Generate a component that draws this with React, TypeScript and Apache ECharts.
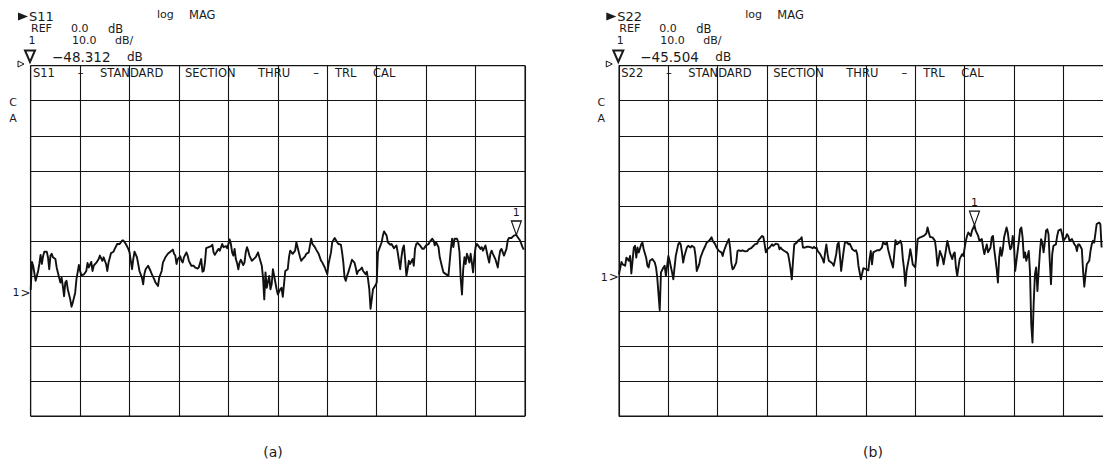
import React, { useEffect, useRef } from "react";
import * as echarts from "echarts";

// ---------- data ----------
// x: measurement point number (0..400), y: |S| in dB
const s11Pt = [
  0, 1, 2, 4, 6, 7, 8, 9, 10, 11,
  13, 14, 15, 16, 17, 18, 20, 21, 23, 24,
  25, 26, 27, 28, 29, 30, 32, 33, 34, 36,
  37, 39, 40, 41, 43, 45, 46, 47, 49, 50,
  51, 53, 55, 56, 58, 59, 61, 62, 63, 65,
  67, 68, 70, 72, 74, 75, 77, 79, 80, 82,
  83, 84, 86, 87, 88, 90, 91, 92, 93, 95,
  97, 98, 100, 101, 103, 104, 106, 107, 109, 111,
  113, 115, 116, 117, 118, 119, 121, 122, 123, 124,
  126, 127, 128, 130, 132, 133, 135, 136, 138, 139,
  140, 141, 142, 144, 146, 147, 148, 149, 151, 152,
  153, 155, 156, 158, 159, 161, 162, 163, 164, 165,
  166, 167, 168, 169, 170, 172, 173, 174, 175, 176,
  177, 179, 181, 182, 184, 185, 187, 188, 189, 190,
  191, 193, 194, 195, 196, 198, 199, 200, 202, 203,
  204, 206, 208, 209, 210, 212, 214, 215, 217, 218,
  219, 220, 222, 223, 225, 226, 227, 228, 230, 231,
  233, 235, 236, 238, 240, 241, 243, 244, 246, 248,
  249, 251, 252, 253, 254, 255, 256, 257, 259, 260,
  262, 263, 264, 265, 267, 268, 269, 271, 272, 273,
  274, 275, 276, 277, 279, 280, 281, 282, 284, 285,
  286, 288, 289, 291, 292, 294, 296, 297, 299, 300,
  301, 302, 303, 304, 305, 306, 307, 309, 310, 311,
  312, 313, 315, 317, 318, 320, 322, 323, 325, 326,
  327, 328, 330, 331, 333, 334, 336, 338, 339, 340,
  341, 342, 343, 345, 346, 347, 348, 349, 350, 351,
  352, 353, 354, 355, 356, 357, 358, 359, 360, 361,
  362, 364, 365, 366, 368, 370, 371, 372, 373, 374,
  376, 378, 379, 380, 381, 383, 385, 386, 387, 389,
  391, 393, 394, 396, 398, 399,
];
const s11Db = [
  -64.0, -56.0, -57.1, -61.4, -58.6, -56.6, -54.0, -56.6, -54.4, -53.1,
  -53.1, -54.7, -58.1, -54.2, -53.7, -54.7, -55.2, -57.6, -60.5, -61.9,
  -60.5, -62.9, -65.8, -61.9, -61.4, -63.8, -66.7, -68.8, -67.7, -64.8,
  -61.0, -56.9, -58.6, -59.8, -59.6, -58.6, -56.3, -57.6, -56.0, -58.6,
  -57.1, -56.3, -55.2, -54.2, -55.7, -54.7, -56.6, -58.6, -56.2, -53.5,
  -53.1, -52.3, -50.9, -50.9, -49.9, -49.9, -50.9, -52.3, -53.3, -58.1,
  -55.2, -53.1, -54.7, -56.6, -58.6, -60.5, -62.4, -59.5, -58.1, -57.1,
  -58.6, -59.5, -61.0, -61.9, -62.9, -60.5, -58.6, -56.2, -54.7, -53.7,
  -53.1, -52.5, -53.7, -54.2, -56.6, -55.2, -54.4, -55.7, -56.2, -54.7,
  -53.3, -54.2, -55.7, -57.1, -57.1, -57.6, -57.9, -57.6, -55.2, -58.8,
  -58.6, -56.2, -52.1, -51.8, -51.5, -51.1, -53.3, -54.0, -52.8, -52.3,
  -52.8, -50.9, -51.8, -51.5, -52.1, -49.6, -50.9, -53.3, -54.2, -52.3,
  -55.2, -56.3, -58.1, -56.2, -55.4, -56.9, -56.2, -53.3, -51.8, -52.8,
  -54.2, -55.7, -55.0, -54.7, -53.3, -54.7, -57.1, -60.5, -66.7, -59.0,
  -63.4, -60.0, -63.8, -62.4, -58.1, -61.9, -63.8, -65.3, -63.8, -63.4,
  -66.0, -58.6, -58.1, -54.7, -52.8, -53.7, -52.8, -50.4, -53.3, -54.7,
  -55.7, -55.2, -54.4, -53.7, -53.3, -51.3, -49.4, -50.9, -51.8, -52.5,
  -53.7, -55.7, -56.2, -57.6, -59.5, -56.6, -53.3, -50.4, -49.2, -50.4,
  -50.9, -51.1, -53.3, -56.2, -60.5, -61.4, -60.0, -59.0, -56.6, -55.4,
  -56.2, -57.6, -59.5, -58.6, -58.1, -57.6, -58.6, -59.5, -58.8, -61.0,
  -63.8, -69.4, -66.7, -63.8, -62.7, -61.9, -53.3, -52.3, -50.4, -48.5,
  -47.3, -48.5, -50.4, -51.1, -50.9, -52.1, -51.3, -53.3, -58.1, -54.7,
  -52.3, -51.3, -55.2, -60.0, -58.1, -55.7, -56.6, -55.2, -57.1, -52.3,
  -50.9, -50.6, -51.3, -52.3, -52.3, -51.3, -50.9, -50.2, -49.4, -49.9,
  -51.3, -50.4, -51.8, -54.7, -57.6, -59.0, -59.5, -60.0, -56.2, -52.3,
  -49.4, -51.8, -49.4, -49.4, -50.4, -53.3, -61.0, -65.3, -58.1, -54.7,
  -56.6, -53.7, -54.7, -56.2, -53.7, -56.2, -59.0, -54.7, -51.8, -50.9,
  -51.3, -52.3, -51.8, -52.8, -51.3, -54.7, -56.2, -53.7, -52.8, -53.7,
  -55.2, -57.6, -54.7, -52.8, -52.3, -54.2, -52.3, -49.9, -49.2, -49.2,
  -48.5, -48.3, -48.9, -49.9, -51.8, -52.5,
];

const s22Pt = [
  0, 2, 3, 5, 6, 8, 9, 10, 12, 13,
  14, 15, 16, 18, 19, 20, 22, 23, 24, 25,
  27, 29, 30, 31, 32, 33, 34, 36, 37, 38,
  40, 41, 43, 44, 45, 46, 48, 49, 50, 51,
  52, 53, 55, 56, 58, 59, 61, 62, 63, 65,
  66, 68, 70, 71, 73, 75, 76, 78, 79, 81,
  83, 84, 85, 87, 89, 90, 91, 92, 93, 95,
  96, 97, 99, 100, 102, 104, 105, 107, 109, 110,
  112, 113, 116, 117, 118, 119, 120, 122, 124, 125,
  127, 129, 130, 131, 132, 134, 136, 137, 138, 139,
  140, 141, 142, 144, 145, 147, 148, 149, 151, 152,
  154, 156, 157, 158, 159, 160, 161, 163, 165, 166,
  167, 168, 169, 170, 172, 173, 174, 176, 177, 178,
  179, 180, 181, 182, 183, 185, 186, 187, 189, 191,
  192, 193, 194, 196, 197, 198, 200, 202, 203, 204,
  205, 206, 208, 209, 211, 213, 214, 216, 217, 218,
  220, 222, 223, 224, 225, 227, 228, 229, 230, 231,
  232, 233, 235, 236, 237, 238, 240, 241, 242, 244,
  245, 247, 249, 250, 251, 252, 254, 256, 257, 258,
  259, 260, 262, 263, 265, 266, 267, 268, 270, 271,
  272, 273, 274, 275, 276, 278, 279, 281, 282, 283,
  285, 286, 288, 289, 291, 292, 294, 295, 296, 297,
  298, 299, 301, 302, 303, 304, 306, 307, 308, 309,
  310, 311, 312, 314, 315, 316, 317, 318, 319, 320,
  321, 322, 324, 325, 326, 327, 328, 329, 330, 331,
  332, 333, 334, 335, 336, 337, 338, 339, 341, 342,
  343, 344, 345, 346, 347, 348, 349, 350, 351, 352,
  354, 355, 356, 358, 359, 360, 362, 363, 364, 365,
  367, 369, 370, 371, 372, 373, 375, 376, 377, 378,
  379, 381, 382, 383, 384, 385, 387, 389, 390, 391,
];
const s22Db = [
  -59.5, -56.0, -56.7, -57.1, -54.8, -55.7, -54.3, -59.3, -51.9, -51.4,
  -54.8, -51.9, -53.3, -51.0, -50.5, -52.4, -54.8, -57.1, -57.6, -55.7,
  -55.2, -56.2, -57.6, -60.5, -65.2, -69.8, -59.0, -57.6, -57.1, -60.0,
  -54.3, -55.7, -59.0, -61.0, -57.6, -54.3, -51.0, -50.5, -51.0, -53.3,
  -56.2, -54.3, -51.9, -51.4, -51.9, -51.4, -51.9, -54.3, -58.6, -56.7,
  -54.8, -52.9, -51.4, -50.5, -50.0, -49.0, -50.0, -51.0, -51.9, -52.9,
  -53.3, -54.3, -52.9, -51.0, -49.5, -51.9, -56.2, -58.1, -57.8, -56.2,
  -52.9, -52.7, -52.9, -52.7, -53.0, -52.9, -52.4, -52.1, -51.4, -51.0,
  -50.8, -49.8, -48.6, -48.9, -51.0, -53.3, -52.4, -51.9, -51.0, -51.4,
  -50.8, -51.0, -52.4, -51.9, -52.4, -52.9, -53.3, -53.8, -55.7, -58.1,
  -61.0, -55.7, -51.0, -50.5, -50.0, -49.5, -49.0, -51.9, -51.9, -51.7,
  -51.7, -51.9, -52.1, -51.7, -52.1, -51.9, -52.9, -53.8, -55.2, -56.2,
  -53.3, -51.0, -53.8, -55.7, -56.2, -56.5, -57.1, -53.8, -51.0, -50.5,
  -54.3, -58.6, -55.7, -52.9, -50.5, -50.5, -51.0, -50.8, -52.4, -52.9,
  -52.7, -53.8, -57.1, -61.0, -59.3, -57.8, -58.1, -58.4, -55.2, -52.9,
  -56.7, -53.3, -52.9, -52.7, -52.7, -51.9, -50.5, -51.0, -50.3, -52.4,
  -55.2, -57.6, -53.8, -49.8, -51.0, -50.5, -50.0, -51.0, -55.2, -58.1,
  -62.9, -58.6, -54.8, -52.4, -54.3, -56.7, -57.6, -53.8, -49.5, -49.0,
  -48.9, -48.6, -47.9, -46.2, -47.6, -48.9, -49.0, -50.0, -52.9, -57.1,
  -55.2, -52.9, -54.8, -56.7, -52.4, -50.0, -51.4, -53.3, -55.2, -53.8,
  -53.3, -57.6, -60.0, -57.6, -55.2, -53.8, -54.3, -50.0, -48.6, -47.6,
  -48.6, -47.1, -45.5, -47.1, -48.6, -50.0, -49.5, -51.9, -53.8, -52.4,
  -51.0, -53.3, -51.9, -49.0, -48.6, -52.4, -58.1, -61.9, -54.8, -51.9,
  -54.3, -52.4, -49.0, -46.2, -47.6, -50.5, -52.4, -51.9, -48.6, -51.0,
  -58.6, -55.7, -50.0, -46.7, -46.2, -49.0, -54.8, -53.3, -55.7, -54.3,
  -52.9, -59.0, -73.8, -79.0, -67.6, -59.5, -57.6, -64.3, -53.3, -49.5,
  -50.5, -53.3, -50.5, -47.1, -46.7, -48.1, -55.7, -62.4, -53.8, -51.4,
  -51.0, -48.6, -47.1, -46.7, -48.1, -50.0, -49.0, -48.1, -48.6, -50.0,
  -49.5, -51.0, -51.4, -52.9, -51.0, -51.0, -52.4, -58.6, -63.1, -59.5,
  -56.7, -55.7, -52.9, -51.0, -50.0, -50.5, -45.2, -44.8, -45.2, -51.9,
];

const paramNames = ["S11", "S22"];
const markerPts = [393, 288];
const markerDbs = [-48.312, -45.504];
const refLevelDb = 0.0;
const scaleDbPerDiv = 10.0;
const captions = ["(a)", "(b)"];
const titleWords = ["STANDARD", "SECTION", "THRU", "–", "TRL", "CAL"];

const yMin = -100;
const yMax = 0;
const yStep = 10;
const xMin = 0;
const xMax = 400;
const xStep = 40;

// ---------- layout ----------
const FONT = '"DejaVu Sans", "Liberation Sans", sans-serif';
const INK = "#1a1a1a";
const LINE = "#141414";
const GRID_TOP = 65.7;
const GRID_H = 350.3;
const GRID_LEFT = [30.7, 619];
const GRID_W = [494.3, 493.7];
const TEXT_DX = [0, 588.3];
const CH_MARK_Y = [292.5, 277];
const CAPTION_X = [273, 873];
const WORD_X = [100, 185, 258, 316, 335, 373];

function txt(x: number, y: number, text: string, size: number, align = "left") {
  return {
    type: "text",
    x,
    y,
    silent: true,
    style: {
      text,
      fill: INK,
      fontSize: size,
      fontFamily: FONT,
      align,
      verticalAlign: "middle",
    },
  };
}

function fmtDb(v: number, digits: number) {
  const s = Math.abs(v).toFixed(digits);
  return (v < 0 ? "−" : "") + s;
}

function panelGraphics(i: number) {
  const dx = TEXT_DX[i];
  const els: any[] = [];
  els.push({
    type: "polygon",
    silent: true,
    shape: { points: [[18 + dx, 12.5], [28 + dx, 16.5], [18 + dx, 20.5]] },
    style: { fill: INK },
  });
  els.push(txt(29 + dx, 16, paramNames[i], 13));
  els.push(txt(157 + dx, 14.5, "log", 11));
  els.push(txt(189 + dx, 14.5, "MAG", 11.5));
  els.push(txt(31 + dx, 28.5, "REF", 11));
  els.push(txt(71 + dx, 28.5, refLevelDb.toFixed(1), 11));
  els.push(txt(108 + dx, 28.5, "dB", 11.5));
  els.push(txt(28.5 + dx, 40.5, "1", 11));
  els.push(txt(72 + dx, 40.5, scaleDbPerDiv.toFixed(1), 11));
  els.push(txt(115 + dx, 40.5, "dB/", 11));
  els.push({
    type: "polygon",
    silent: true,
    shape: { points: [[25 + dx, 50.5], [35 + dx, 50.5], [30 + dx, 62]] },
    style: { fill: "none", stroke: INK, lineWidth: 2 },
  });
  els.push(txt(52 + dx, 56.5, fmtDb(markerDbs[i], 3), 13.5));
  els.push(txt(127 + dx, 56.5, "dB", 12));
  els.push({
    type: "polygon",
    silent: true,
    shape: { points: [[18 + dx, 61], [24 + dx, 64], [18 + dx, 67]] },
    style: { fill: "none", stroke: INK, lineWidth: 1 },
  });
  // trace title inside the top row of the graticule
  els.push(txt(33 + dx, 73, paramNames[i], 11.5));
  els.push(txt(80.5 + dx, 72.5, "–", 11.5, "center"));
  titleWords.forEach((w, k) => {
    els.push(txt(WORD_X[k] + dx, w === "–" ? 72.5 : 73, w, 11.5, w === "–" ? "center" : "left"));
  });
  els.push(txt(13 + dx, 102, "C", 11, "center"));
  els.push(txt(13 + dx, 118, "A", 11, "center"));
  els.push(txt(12.5 + dx, CH_MARK_Y[i], "1", 11));
  els.push(txt(20.5 + dx, CH_MARK_Y[i], ">", 12));
  els.push(txt(CAPTION_X[i], 452, captions[i], 14, "center"));
  return els;
}

function buildOption() {
  const traces = [
    s11Pt.map((p, k) => [p, s11Db[k]]),
    s22Pt.map((p, k) => [p, s22Db[k]]),
  ];
  const axisCommon = {
    axisLine: { show: false },
    axisTick: { show: false },
    axisLabel: { show: false },
    splitLine: { show: true, lineStyle: { color: LINE, width: 1.1 } },
  };
  return {
    animation: false,
    backgroundColor: "#ffffff",
    grid: [0, 1].map((i) => ({
      left: GRID_LEFT[i],
      top: GRID_TOP,
      width: GRID_W[i],
      height: GRID_H,
      show: true,
      borderColor: LINE,
      borderWidth: 1.1,
      backgroundColor: "transparent",
    })),
    xAxis: [0, 1].map((i) => ({
      gridIndex: i,
      type: "value",
      min: xMin,
      max: xMax,
      interval: xStep,
      ...axisCommon,
    })),
    yAxis: [0, 1].map((i) => ({
      gridIndex: i,
      type: "value",
      min: yMin,
      max: yMax,
      interval: yStep,
      ...axisCommon,
    })),
    series: [0, 1].map((i) => ({
      type: "line",
      name: paramNames[i],
      xAxisIndex: i,
      yAxisIndex: i,
      data: traces[i],
      symbol: "none",
      clip: true,
      silent: true,
      lineStyle: { color: "#111111", width: 1.9, join: "round" },
      markPoint: {
        silent: true,
        symbol: "path://M0,0L10,0L5,14Z",
        symbolSize: [10, 14],
        symbolOffset: [0, -7],
        itemStyle: { color: "rgba(0,0,0,0)", borderColor: "#111111", borderWidth: 1.2 },
        label: {
          show: true,
          position: "top",
          distance: 2,
          formatter: "1",
          color: INK,
          fontSize: 11,
          fontFamily: FONT,
        },
        data: [{ coord: [markerPts[i], markerDbs[i]] }],
      },
    })),
    graphic: [...panelGraphics(0), ...panelGraphics(1)],
  };
}

export default function App() {
  const ref = useRef<HTMLDivElement>(null);
  useEffect(() => {
    if (!ref.current) return;
    const chart = echarts.init(ref.current, null, { renderer: "svg" });
    chart.setOption(buildOption() as any);
    return () => chart.dispose();
  }, []);
  return (
    <div
      style={{
        position: "fixed",
        left: 0,
        top: 0,
        width: 1103,
        height: 464,
        overflow: "hidden",
        background: "#ffffff",
      }}
    >
      <div ref={ref} style={{ width: 1130, height: 464 }} />
    </div>
  );
}
